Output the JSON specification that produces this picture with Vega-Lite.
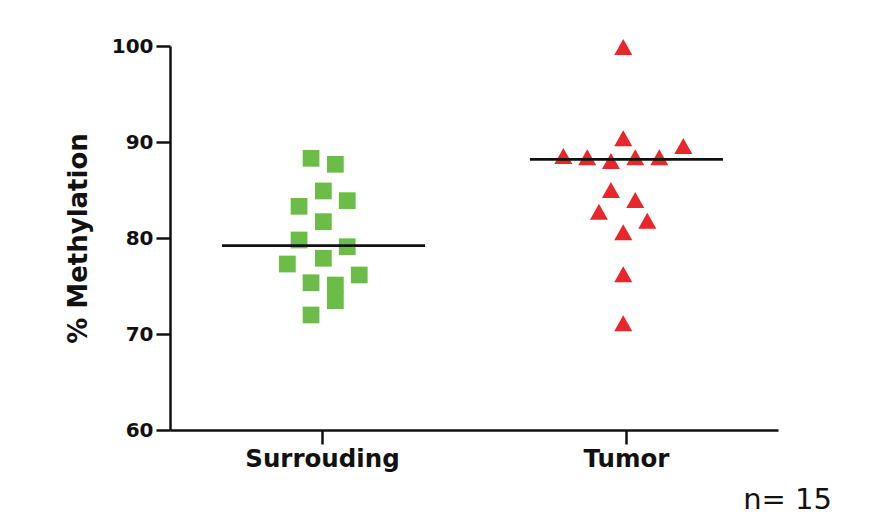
{
  "$schema": "https://vega.github.io/schema/vega-lite/v6.json",
  "width": 608,
  "height": 384,
  "autosize": {"type": "none"},
  "padding": {"left": 170, "top": 46, "right": 100, "bottom": 96},
  "background": "white",
  "config": {"view": {"stroke": null}},
  "title": {
    "text": "n= 15",
    "orient": "bottom",
    "anchor": "end",
    "frame": "group",
    "align": "right",
    "dx": 54,
    "offset": 15,
    "font": "DejaVu Sans",
    "fontSize": 29,
    "fontWeight": "normal",
    "color": "#111111"
  },
  "datasets": {
    "points": [
      {"group": "Surrouding", "x": 0.928, "value": 88.30},
      {"group": "Surrouding", "x": 1.088, "value": 87.68},
      {"group": "Surrouding", "x": 1.009, "value": 84.90},
      {"group": "Surrouding", "x": 0.849, "value": 83.30},
      {"group": "Surrouding", "x": 1.166, "value": 83.89},
      {"group": "Surrouding", "x": 1.009, "value": 81.70},
      {"group": "Surrouding", "x": 0.849, "value": 79.79},
      {"group": "Surrouding", "x": 1.166, "value": 79.09},
      {"group": "Surrouding", "x": 1.009, "value": 77.89},
      {"group": "Surrouding", "x": 0.772, "value": 77.29},
      {"group": "Surrouding", "x": 0.928, "value": 75.34},
      {"group": "Surrouding", "x": 1.245, "value": 76.15},
      {"group": "Surrouding", "x": 1.088, "value": 75.10},
      {"group": "Surrouding", "x": 1.088, "value": 73.47},
      {"group": "Surrouding", "x": 0.928, "value": 71.98},
      {"group": "Tumor", "x": 2.982, "value": 99.9},
      {"group": "Tumor", "x": 2.982, "value": 90.39},
      {"group": "Tumor", "x": 3.377, "value": 89.58},
      {"group": "Tumor", "x": 2.588, "value": 88.54},
      {"group": "Tumor", "x": 2.745, "value": 88.41},
      {"group": "Tumor", "x": 2.901, "value": 88.02},
      {"group": "Tumor", "x": 3.061, "value": 88.41},
      {"group": "Tumor", "x": 3.219, "value": 88.41},
      {"group": "Tumor", "x": 2.901, "value": 85.00},
      {"group": "Tumor", "x": 3.061, "value": 83.96},
      {"group": "Tumor", "x": 2.822, "value": 82.74},
      {"group": "Tumor", "x": 3.140, "value": 81.80},
      {"group": "Tumor", "x": 2.982, "value": 80.59},
      {"group": "Tumor", "x": 2.982, "value": 76.22},
      {"group": "Tumor", "x": 2.982, "value": 71.11}
    ],
    "medians": [
      {"group": "Surrouding", "x": 0.342, "x2": 1.678, "value": 79.20},
      {"group": "Tumor", "x": 2.368, "x2": 3.638, "value": 88.20}
    ]
  },
  "encoding": {
    "x": {
      "field": "x",
      "type": "quantitative",
      "scale": {"domain": [0, 4], "nice": false, "zero": false},
      "axis": {
        "values": [1, 3],
        "labelExpr": "datum.value == 1 ? 'Surrouding' : 'Tumor'",
        "title": null,
        "grid": false,
        "domainColor": "#111111",
        "domainWidth": 2.5,
        "tickColor": "#111111",
        "tickWidth": 2.5,
        "tickSize": 14,
        "labelPadding": 3,
        "labelFont": "DejaVu Sans",
        "labelFontWeight": "bold",
        "labelFontSize": 24.5,
        "labelColor": "#111111",
        "labelFlush": false
      }
    },
    "y": {
      "field": "value",
      "type": "quantitative",
      "scale": {"domain": [60, 100], "nice": false, "zero": false},
      "axis": {
        "values": [60, 70, 80, 90, 100],
        "title": "% Methylation",
        "titleFont": "DejaVu Sans",
        "titleFontWeight": "bold",
        "titleFontSize": 26,
        "titleColor": "#111111",
        "titlePadding": 20,
        "grid": false,
        "domainColor": "#111111",
        "domainWidth": 2.5,
        "tickColor": "#111111",
        "tickWidth": 2.5,
        "tickSize": 14,
        "labelPadding": 3,
        "labelFont": "DejaVu Sans",
        "labelFontWeight": "bold",
        "labelFontSize": 20,
        "labelColor": "#111111",
        "labelFlush": false
      }
    }
  },
  "layer": [
    {
      "data": {"name": "points"},
      "transform": [{"filter": "datum.group == 'Surrouding'"}],
      "mark": {"type": "point", "shape": "square", "filled": true, "size": 280, "color": "#6cbd47", "opacity": 1, "strokeWidth": 0}
    },
    {
      "data": {"name": "points"},
      "transform": [{"filter": "datum.group == 'Tumor'"}],
      "mark": {"type": "point", "shape": "M0,-0.89L1,0.89L-1,0.89Z", "filled": true, "size": 324, "color": "#e9262b", "opacity": 1, "strokeWidth": 0}
    },
    {
      "data": {"name": "medians"},
      "mark": {"type": "rule", "color": "#111111", "strokeWidth": 2.8},
      "encoding": {
        "x2": {"field": "x2"}
      }
    }
  ]
}
